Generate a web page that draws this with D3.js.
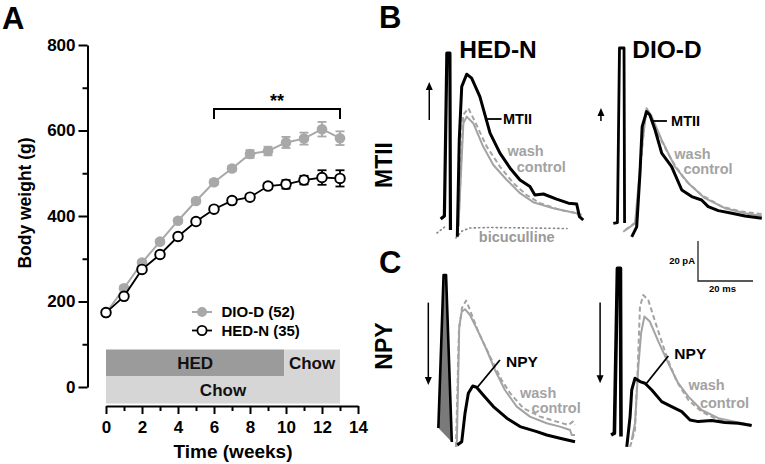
<!DOCTYPE html>
<html><head><meta charset="utf-8">
<script src="https://cdn.jsdelivr.net/npm/d3@7"></script>
<style>
body{margin:0;background:#fff}
svg{display:block}
text{font-family:"Liberation Sans",Arial,Helvetica,sans-serif;font-weight:bold}
</style>
</head><body>
<svg id="c" width="765" height="464"></svg>
<script>
// ---------- Panel A data ----------
const weeks   = [0,1,2,3,4,5,6,7,8,9,10,11,12,13];
const dioMean = [173,231,291,340,389,435,479,511,545,552,572,581,603,582];
const dioSem  = [4,5,5,5,5,6,6,6,9,10,13,14,17,16];
const hedMean = [174,212,275,310,352,387,416,436,444,470,474,484,490,488];
const hedSem  = [4,4,4,5,5,5,6,6,6,7,10,10,17,19];
const seriesNames = ["DIO-D (52)","HED-N (35)"];
const yTicks = [0,200,400,600,800];
const yMinor = [100,300,500,700];
const xTicks = [0,2,4,6,8,10,12,14];
const xMinor = [1,3,5,7,9,11,13];
const dietTop = [["HED",0,9.9],["Chow",9.9,13]];
const dietBottom = [["Chow",0,13]];
const sigRange = [6,13];
const sigLabel = "**";

// ---------- Panels B/C data: [time ms, current pA] ----------
const b1Artifact = [[0.25,0.5],[1.6,2],[2.5,83.5],[3.6,83.5],[3.8,-5]];
const b1Bicuc1 = [[-1.1,-6.5],[2.2,-3]];
const b1Bicuc2 = [[5.8,-9],[8,-5.5],[10.9,-4],[18.2,-3.75],[32.7,-4],[46.2,-4.25]];
const b1MTII = [[6.3,-8.4],[7.0,40],[7.9,66.7],[9.7,72.9],[11.5,70.9],[14.5,61.7],[18.2,43.4],[21.8,33.4],[25.5,25.9],[29.1,20],[32.7,16.7],[34.5,12.5],[37.6,13],[42.4,10.4],[46.7,8.4],[49.7,8],[50.7,1.7],[52.1,0]];
const b1Wash = [[6.7,-3.4],[8.5,48.4],[9.7,51.7],[12.1,48.4],[15.7,36.7],[19.4,27.5],[24.3,20],[29.1,13.4],[33.9,8.9],[41.2,5.9],[49.7,3.4],[51.5,2.5]];
const b1Control = [[6.7,-3],[8.4,52.5],[10.3,55.9],[13.3,47.5],[17.0,36.7],[21.8,26.7],[26.7,18.4],[31.5,12.5],[36.4,8.4],[43.6,5],[49.7,3.4],[51.5,0.9]];

const b2Artifact = [[1.2,-1.7],[2.7,-1.3],[3.45,86],[5.1,86],[5.3,-1.5]];
const b2MTII = [[7.9,-8.4],[9.7,-3.4],[10.9,23.4],[11.7,46.7],[13.3,54.2],[14.5,52.5],[16.4,45],[18.8,33.4],[22.4,26.7],[26.1,15],[29.7,11.7],[33.3,10],[35.7,6.7],[39.4,4.7],[44.3,3.4],[49.1,2],[55.2,0.9]];
const b2Wash = [[4.8,-5.9],[9.1,-1.7],[11.5,35],[13.3,55.9],[15.2,51.7],[18.8,40],[23.6,26.7],[28.5,18.4],[34.5,10.9],[41.8,5.9],[49.1,3.4],[55.2,2]];
const b2Control = [[5.5,-5],[9.5,-1],[11.3,30],[13.0,55],[14.5,53],[17.6,42.5],[22.4,30],[27.3,20],[33.3,12.5],[40.6,6.7],[47.9,4.2],[55.2,3]];

const c1Artifact = [[-0.6,6],[1.3,82.5],[2.2,82.5],[4.3,-1]];
const c1NPY = [[6.3,-2.5],[7.9,-0.9],[9.1,13.4],[10.3,23.4],[11.9,27],[13.3,26.4],[15.7,22.5],[19.4,16.7],[24.3,10.9],[29.1,6.7],[35.2,4.2],[38.8,2.5],[43.6,0.9],[49.1,-0.9]];
const c1Wash = [[6.1,-3.4],[7.0,56.7],[7.9,64.2],[9.1,65.4],[10.9,62.5],[13.9,54.2],[17.0,45],[20,35],[23.6,25],[27.9,16.7],[32.7,11.7],[38.8,8.4],[43.6,6.7],[47.3,5],[47.9,2.5],[49.1,2.5]];
const c1Control = [[5.8,-3.5],[6.9,55],[8,66],[9.5,69.7],[10.9,65],[13.9,54.2],[18.2,41.7],[22.4,30],[25.5,23.4],[30.3,15.9],[36.4,11.7],[42.4,9.2],[46.7,7.5],[48.3,9.2],[49.1,7.5]];

const c2Artifact = [[0.4,2.5],[1.6,3.4],[2.7,85.9],[3.8,85.9],[4.0,1.7]];
const c2NPY = [[6.1,-3.4],[7.3,11.7],[7.9,25],[9.1,30.9],[10.9,29.2],[12.7,28.4],[15.2,25],[18.8,19.2],[22.4,16.7],[26.1,14.2],[29.1,10],[32.1,9.2],[37,9.7],[41.8,8.7],[46.7,8.4],[51.5,7.2]];
const c2Wash = [[7.9,0],[9.1,8.4],[10.3,36.7],[11.3,53.4],[12.5,61.7],[14.5,59.2],[17.6,49.2],[21.2,38.4],[24.8,28.4],[28.5,21.7],[33.3,15],[39.4,10.9],[46.7,8.7],[51.5,7.5]];
const c2Control = [[7.3,-3.4],[9.1,5],[10.1,36.7],[10.9,66.7],[12.1,72.5],[13.9,70],[17,56.7],[20.6,41.7],[24.3,29.2],[28.5,20],[33.3,14.2],[39.4,10],[46.7,8.4],[51.5,7.5]];

// arrows: [t, fromPA, toPA]
const arrows = {b1:[-3.9,50,69], b2:[-3.3,49.5,56], c1:[-4.25,68.7,27.5], c2:[-3.6,68.7,28.4]};
const scaleBar = {t:32, i:79.5, pA:20, ms:20};
const groupTitles = ["HED-N","DIO-D"];
const rowTitles = ["MTII","NPY"];

// ---------- drawing ----------
const svg = d3.select("#c");
const black = "#000", grayS = "#a8a8a8", grayT = "#a3a3a3";

// Panel A scales
const x = d3.scaleLinear().domain([0,14]).range([106,358]);
const y = d3.scaleLinear().domain([0,800]).range([387,45]);
const gA = svg.append("g");

// diet bars
gA.selectAll("rect.top").data(dietTop).enter().append("rect")
  .attr("x",d=>x(d[1])).attr("width",d=>x(d[2])-x(d[1]))
  .attr("y",349.5).attr("height",26.5)
  .attr("fill",(d,i)=>i===0?"#9b9b9b":"#d6d6d6");
gA.selectAll("rect.bot").data(dietBottom).enter().append("rect")
  .attr("x",d=>x(d[1])).attr("width",d=>x(d[2])-x(d[1]))
  .attr("y",376).attr("height",27.5).attr("fill","#d6d6d6");
gA.selectAll("text.top").data(dietTop).enter().append("text")
  .attr("x",d=>(x(d[1])+x(d[2]))/2).attr("y",368.5).attr("text-anchor","middle")
  .attr("font-size",17).attr("fill","#111").text(d=>d[0]);
gA.selectAll("text.bot").data(dietBottom).enter().append("text")
  .attr("x",d=>(x(d[1])+x(d[2]))/2).attr("y",396).attr("text-anchor","middle")
  .attr("font-size",17).attr("fill","#111").text(d=>d[0]);

// y axis
gA.append("g").attr("transform","translate(87.5,0)")
  .call(d3.axisLeft(y).tickValues(yTicks).tickSize(9).tickSizeOuter(0).tickPadding(3));
gA.append("g").attr("transform","translate(87.5,0)")
  .call(d3.axisLeft(y).tickValues(yMinor).tickSize(5).tickSizeOuter(0).tickFormat(""))
  .select(".domain").remove();
// x axis
gA.append("g").attr("transform","translate(0,406)")
  .call(d3.axisBottom(x).tickValues(xTicks).tickSize(8).tickSizeOuter(0).tickPadding(7));
gA.append("g").attr("transform","translate(0,406)")
  .call(d3.axisBottom(x).tickValues(xMinor).tickSize(5).tickSizeOuter(0).tickFormat(""))
  .select(".domain").remove();
gA.selectAll(".domain").attr("stroke",black).attr("stroke-width",2);
gA.selectAll(".tick line").attr("stroke",black).attr("stroke-width",2);
gA.selectAll(".tick text").attr("font-size",17).attr("fill",black)
  .style("font-family",'"Liberation Sans",Arial,sans-serif').style("font-weight","bold");

gA.append("text").attr("transform","translate(31,203) rotate(-90)").attr("text-anchor","middle")
  .attr("font-size",17.5).text("Body weight (g)");
gA.append("text").attr("x",233).attr("y",458).attr("text-anchor","middle")
  .attr("font-size",19).text("Time (weeks)");

// significance bracket
gA.append("path").attr("fill","none").attr("stroke",black).attr("stroke-width",2)
  .attr("d",`M${x(sigRange[0])},119V109H${x(sigRange[1])}V119`);
gA.append("text").attr("x",(x(sigRange[0])+x(sigRange[1]))/2).attr("y",107)
  .attr("text-anchor","middle").attr("font-size",18).text(sigLabel);

// series
const dio = weeks.map((w,i)=>({w,m:dioMean[i],s:dioSem[i]}));
const hed = weeks.map((w,i)=>({w,m:hedMean[i],s:hedSem[i]}));
const line = d3.line().x(d=>x(d.w)).y(d=>y(d.m));
function drawSeries(data,col,fill,sw){
  const g = gA.append("g");
  g.append("path").datum(data).attr("d",line).attr("fill","none").attr("stroke",col).attr("stroke-width",sw);
  const eb = g.selectAll("g.eb").data(data).enter().append("g");
  eb.append("line").attr("x1",d=>x(d.w)).attr("x2",d=>x(d.w))
    .attr("y1",d=>y(d.m-d.s)).attr("y2",d=>y(d.m+d.s)).attr("stroke",col).attr("stroke-width",1.8);
  eb.append("line").attr("x1",d=>x(d.w)-4.5).attr("x2",d=>x(d.w)+4.5)
    .attr("y1",d=>y(d.m+d.s)).attr("y2",d=>y(d.m+d.s)).attr("stroke",col).attr("stroke-width",1.8);
  eb.append("line").attr("x1",d=>x(d.w)-4.5).attr("x2",d=>x(d.w)+4.5)
    .attr("y1",d=>y(d.m-d.s)).attr("y2",d=>y(d.m-d.s)).attr("stroke",col).attr("stroke-width",1.8);
  g.selectAll("circle").data(data).enter().append("circle")
    .attr("cx",d=>x(d.w)).attr("cy",d=>y(d.m)).attr("r",fill===col?5.3:4.8)
    .attr("fill",fill).attr("stroke",col).attr("stroke-width",fill===col?0:1.9);
}
drawSeries(dio,grayS,grayS,2);
drawSeries(hed,black,"#fff",1.8);

// legend
const legY = [312,330.5];
const legCols = [[grayS,grayS],[black,"#fff"]];
seriesNames.forEach((n,i)=>{
  gA.append("line").attr("x1",192).attr("x2",212).attr("y1",legY[i]).attr("y2",legY[i])
    .attr("stroke",legCols[i][0]).attr("stroke-width",i?1.8:2);
  gA.append("circle").attr("cx",202).attr("cy",legY[i]).attr("r",i?4.6:5)
    .attr("fill",legCols[i][1]).attr("stroke",legCols[i][0]).attr("stroke-width",i?1.8:0);
  gA.append("text").attr("x",221.5).attr("y",legY[i]+5.3).attr("font-size",15).text(n);
});

// panel letters
[["A",2,28.5],["B",379,28],["C",379,273]].forEach(l=>{
  svg.append("text").attr("x",l[1]).attr("y",l[2]).attr("font-size",31).text(l[0]);
});

// ---------- Traces ----------
function pscales(x0,y0){
  return {x:d3.scaleLinear().domain([0,20]).range([x0,x0+55]),
          y:d3.scaleLinear().domain([0,20]).range([y0,y0-40])};
}
const P = {b1:pscales(440,220), b2:pscales(610,220), c1:pscales(440,440), c2:pscales(610,440)};
function tline(p){ return d3.line().x(d=>p.x(d[0])).y(d=>p.y(d[1])); }
function trace(p,data,opt){
  svg.append("path").datum(data).attr("d",tline(p)).attr("fill",opt.fill||"none")
    .attr("stroke",opt.col).attr("stroke-width",opt.w)
    .attr("stroke-dasharray",opt.dash||null).attr("stroke-linejoin","round").attr("stroke-linecap",opt.cap||"butt");
}
// B1
trace(P.b1,b1Bicuc1,{col:"#888",w:1.6,dash:"1.2,3",cap:"round"});
trace(P.b1,b1Bicuc2,{col:"#888",w:1.6,dash:"1.2,3.2",cap:"round"});
trace(P.b1,b1Wash,{col:grayT,w:2});
trace(P.b1,b1Control,{col:grayT,w:2,dash:"5,3"});
trace(P.b1,b1MTII,{col:black,w:3});
trace(P.b1,b1Artifact,{col:black,w:3.2});
// B2
trace(P.b2,b2Wash,{col:grayT,w:2});
trace(P.b2,b2Control,{col:grayT,w:2,dash:"5,3"});
trace(P.b2,b2MTII,{col:black,w:3});
trace(P.b2,b2Artifact,{col:black,w:2.8});
// C1
trace(P.c1,c1Artifact,{col:black,w:2.6,fill:"#7a7a7a"});
trace(P.c1,c1Wash,{col:grayT,w:2});
trace(P.c1,c1Control,{col:grayT,w:2,dash:"5,3"});
trace(P.c1,c1NPY,{col:black,w:3});
// C2
trace(P.c2,c2Wash,{col:grayT,w:2});
trace(P.c2,c2Control,{col:grayT,w:2,dash:"5,3"});
trace(P.c2,c2NPY,{col:black,w:3});
trace(P.c2,c2Artifact,{col:black,w:3.6});

// arrows
Object.keys(arrows).forEach(k=>{
  const p=P[k], a=arrows[k];
  const xx=p.x(a[0]), y1=p.y(a[1]), y2=p.y(a[2]);
  const dir = y2<y1?-1:1;
  svg.append("line").attr("x1",xx).attr("x2",xx).attr("y1",y1).attr("y2",y2-dir*6).attr("stroke",black).attr("stroke-width",1.5);
  svg.append("path").attr("d",`M${xx},${y2}L${xx-3.5},${y2-dir*8}L${xx+3.5},${y2-dir*8}Z`).attr("fill",black);
});

// trace labels: [panel, text, t, pA, color, size]
const labels = [
  ["b1","MTII",22.9,50.5,black,14.5],["b1","wash",24.5,34.6,grayT,14.5],["b1","control",27.9,26.6,grayT,14.5],
  ["b2","MTII",22.2,49.5,black,14.5],["b2","wash",23.4,32.9,grayT,14.5],["b2","control",26.7,25.5,grayT,14.5],
  ["c1","NPY",24,39.2,black,15.5],["c1","wash",29.1,23.8,grayT,14.5],["c1","control",33.3,16.3,grayT,14.5],
  ["c2","NPY",23.4,43.4,black,15.5],["c2","wash",28.5,27.4,grayT,14.5],["c2","control",32.7,18.8,grayT,14.5]
];
labels.forEach(l=>{
  const p=P[l[0]];
  svg.append("text").attr("x",p.x(l[2])).attr("y",p.y(l[3])+l[5]*0.36)
    .attr("font-size",l[5]).attr("fill",l[4]).text(l[1]);
});
svg.append("text").attr("x",P.b1.x(27.9)).attr("y",P.b1.y(-8.4)+5.2).attr("text-anchor","middle")
  .attr("font-size",14.5).attr("fill","#999").text("bicuculline");
// leaders: [panel, t1,i1,t2,i2]
const leaders = [["b1",16.4,50.5,22.4,50.5],["b2",15.2,49.5,20.7,49.5],["c1",13.3,25.9,21.8,40],["c2",13.3,28.4,21.2,42]];
leaders.forEach(l=>{
  const p=P[l[0]];
  svg.append("line").attr("x1",p.x(l[1])).attr("y1",p.y(l[2])).attr("x2",p.x(l[3])).attr("y2",p.y(l[4]))
    .attr("stroke",black).attr("stroke-width",1.8);
});

// titles
[[498,groupTitles[0]],[667,groupTitles[1]]].forEach(t=>{
  svg.append("text").attr("x",t[0]).attr("y",58).attr("text-anchor","middle").attr("font-size",24.5).text(t[1]);
});
[[165,rowTitles[0]],[346,rowTitles[1]]].forEach(t=>{
  svg.append("text").attr("transform",`translate(392,${t[0]}) rotate(-90)`).attr("text-anchor","middle")
    .attr("font-size",23).text(t[1]);
});

// scale bar
const sp=P.c2, sx=sp.x(scaleBar.t), sy=sp.y(scaleBar.i);
svg.append("path").attr("fill","none").attr("stroke","#222").attr("stroke-width",1.3)
  .attr("d",`M${sx},${sp.y(scaleBar.i+scaleBar.pA)}V${sy}H${sp.x(scaleBar.t+scaleBar.ms)}`);
svg.append("text").attr("x",sx-3).attr("y",sy-17).attr("text-anchor","end").attr("font-size",9.5).text(scaleBar.pA+" pA");
svg.append("text").attr("x",(sx+sp.x(scaleBar.t+scaleBar.ms))/2-3).attr("y",sy+10.5).attr("text-anchor","middle").attr("font-size",9.5).text(scaleBar.ms+" ms");
</script>
</body></html>
